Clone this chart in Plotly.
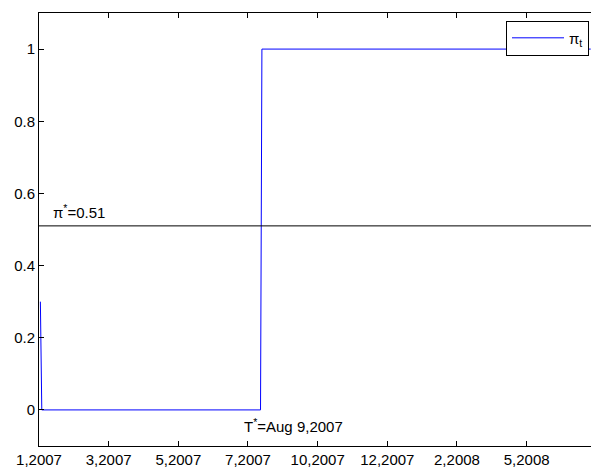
import plotly.graph_objects as go

# Observation index (trading days) and the probability path pi_t
obs = [1, 2, 159, 160, 396]
pi_t = [0.3, 0.0, 0.0, 1.0, 1.0]

# Threshold line pi* = 0.51
thr_x = [0, 396.2]
thr_y = [0.51, 0.51]

# Axis ticks
x_tickvals = [0, 50, 100, 150, 200, 250, 300, 350]
x_ticktext = ["1,2007", "3,2007", "5,2007", "7,2007", "10,2007", "12,2007", "2,2008", "5,2008"]
y_tickvals = [0, 0.2, 0.4, 0.6, 0.8, 1.0]
y_ticktext = ["0", "0.2", "0.4", "0.6", "0.8", "1"]

FONT = "Liberation Sans, Arial, Helvetica, sans-serif"

fig = go.Figure()
fig.add_trace(go.Scatter(
    x=obs, y=pi_t, mode="lines", name="\u03c0<sub>t</sub>",
    line=dict(color="#0000ff", width=1),
))
fig.add_trace(go.Scatter(
    x=thr_x, y=thr_y, mode="lines", showlegend=False,
    line=dict(color="#000000", width=1),
))

fig.add_annotation(
    x=8.5, y=0.549, xref="x", yref="y", text="\u03c0<sup>*</sup>=0.51",
    showarrow=False, xanchor="left", yanchor="middle",
    font=dict(family=FONT, size=15, color="black"),
)
fig.add_annotation(
    x=145.8, y=-0.042, xref="x", yref="y", text="T<sup>*</sup>=Aug 9,2007",
    showarrow=False, xanchor="left", yanchor="middle",
    font=dict(family=FONT, size=15, color="black"),
)

fig.update_layout(
    width=591, height=470,
    margin=dict(l=39, r=0, t=13, b=24),
    paper_bgcolor="white", plot_bgcolor="white",
    font=dict(family=FONT, size=15, color="black"),
    showlegend=True,
    legend=dict(
        x=0.9964, y=0.9825, xanchor="right", yanchor="top",
        bordercolor="black", borderwidth=1, bgcolor="white",
        itemwidth=52, tracegroupgap=0,
        font=dict(family=FONT, size=15, color="black"),
    ),
    xaxis=dict(
        range=[0, 396.2], tickmode="array", tickvals=x_tickvals, ticktext=x_ticktext,
        showgrid=False, zeroline=False, showline=True, linecolor="black", linewidth=1,
        mirror="ticks", ticks="inside", ticklen=5, tickcolor="black", tickwidth=1,
    ),
    yaxis=dict(
        range=[-0.1, 1.1], tickmode="array", tickvals=y_tickvals, ticktext=y_ticktext,
        showgrid=False, zeroline=False, showline=True, linecolor="black", linewidth=1,
        mirror=False, ticks="inside", ticklen=5, tickcolor="black", tickwidth=1,
    ),
)

fig.write_html("out.html")
